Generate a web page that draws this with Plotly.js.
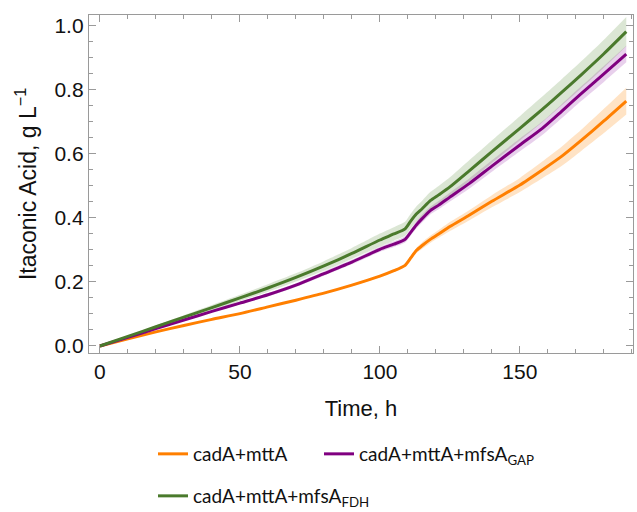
<!DOCTYPE html>
<html>
<head>
<meta charset="utf-8">
<script src="https://cdn.plot.ly/plotly-3.0.1.min.js"></script>
<style>html,body{margin:0;padding:0;background:#fff;}#chart{width:637px;height:512px;}</style>
</head>
<body>
<div id="chart"></div>
<script>
// Time grid (h)
const timeH = [0, 10, 20, 30, 40, 50, 60, 70, 80, 90, 100, 105, 109, 111, 113, 115, 118, 121, 125, 132, 140, 150, 158, 165, 172, 180, 188];

// Itaconic acid (g/L), central estimates
const cadA_mttA = [0, 0.022, 0.044, 0.064, 0.083, 0.101, 0.122, 0.143, 0.165, 0.19, 0.218, 0.235, 0.252, 0.275, 0.298, 0.313, 0.333, 0.35, 0.373, 0.409, 0.452, 0.503, 0.55, 0.593, 0.643, 0.703, 0.765];
const cadA_mttA_GAP = [0, 0.027, 0.054, 0.081, 0.108, 0.134, 0.16, 0.19, 0.226, 0.262, 0.302, 0.318, 0.333, 0.355, 0.378, 0.397, 0.423, 0.44, 0.465, 0.508, 0.562, 0.628, 0.68, 0.734, 0.789, 0.85, 0.912];
const cadA_mttA_FDH = [0, 0.03, 0.06, 0.09, 0.12, 0.15, 0.181, 0.214, 0.25, 0.289, 0.331, 0.35, 0.366, 0.39, 0.412, 0.428, 0.454, 0.472, 0.497, 0.548, 0.607, 0.68, 0.739, 0.793, 0.848, 0.913, 0.982];

// Half-width of the shaded uncertainty band (g/L)
const cadA_mttA_band = [0, 0, 0, 0, 0.001, 0.001, 0.001, 0.002, 0.002, 0.003, 0.003, 0.004, 0.004, 0.006, 0.008, 0.01, 0.011, 0.012, 0.014, 0.016, 0.019, 0.022, 0.026, 0.03, 0.033, 0.038, 0.042];
const cadA_mttA_GAP_band = [0, 0.001, 0.002, 0.002, 0.003, 0.004, 0.005, 0.006, 0.007, 0.007, 0.008, 0.009, 0.01, 0.01, 0.011, 0.012, 0.012, 0.013, 0.014, 0.016, 0.018, 0.02, 0.021, 0.022, 0.023, 0.025, 0.026];
const cadA_mttA_FDH_band = [0, 0.002, 0.004, 0.006, 0.008, 0.01, 0.012, 0.013, 0.015, 0.017, 0.02, 0.021, 0.022, 0.023, 0.024, 0.025, 0.027, 0.028, 0.03, 0.033, 0.035, 0.038, 0.04, 0.041, 0.042, 0.044, 0.046];

const seriesNames = ['cadA+mttA', 'cadA+mttA+mfsA<sub>GAP</sub>', 'cadA+mttA+mfsA<sub>FDH</sub>'];
const xTickVals = [0, 50, 100, 150];
const yTickVals = [0.0, 0.2, 0.4, 0.6, 0.8, 1.0];

const series = [
  {y: cadA_mttA, band: cadA_mttA_band, color: '#ff7f00', fill: 'rgba(255,150,40,0.27)', legend: 'legend'},
  {y: cadA_mttA_GAP, band: cadA_mttA_GAP_band, color: '#800080', fill: 'rgba(150,40,170,0.22)', legend: 'legend3'},
  {y: cadA_mttA_FDH, band: cadA_mttA_FDH_band, color: '#4a7a2c', fill: 'rgba(90,140,60,0.22)', legend: 'legend2'}
];

const traces = [];
series.forEach((s) => {
  const lo = s.y.map((v, i) => v - s.band[i]);
  const hi = s.y.map((v, i) => v + s.band[i]);
  traces.push({x: timeH, y: lo, type: 'scatter', mode: 'lines', line: {width: 0, shape: 'spline', smoothing: 0.6}, showlegend: false, hoverinfo: 'skip'});
  traces.push({x: timeH, y: hi, type: 'scatter', mode: 'lines', fill: 'tonexty', fillcolor: s.fill, line: {width: 0, shape: 'spline', smoothing: 0.6}, showlegend: false, hoverinfo: 'skip'});
});
series.forEach((s, k) => {
  traces.push({x: timeH, y: s.y, type: 'scatter', mode: 'lines', name: seriesNames[k], legend: s.legend,
    line: {color: s.color, width: 3, shape: 'spline', smoothing: 0.6}});
});

const axisCommon = {
  showline: true, linecolor: '#9a9a9a', linewidth: 1.2, mirror: 'allticks',
  ticks: 'inside', ticklen: 7, tickcolor: '#9a9a9a', tickwidth: 1,
  showgrid: false, zeroline: false,
  tickfont: {family: 'Liberation Sans, Arial, sans-serif', size: 21, color: '#111'}
};

const legendFont = {family: 'Lato, Noto Sans, sans-serif', size: 19, color: '#111'};
const legendBase = {orientation: 'h', xref: 'container', yref: 'container', traceorder: 'normal',
  xanchor: 'left', yanchor: 'middle', font: legendFont, bgcolor: 'rgba(0,0,0,0)'};

const layout = {
  width: 637, height: 512,
  margin: {l: 89, r: 4, t: 15, b: 159},
  paper_bgcolor: '#fff', plot_bgcolor: '#fff',
  showlegend: true,
  xaxis: Object.assign({}, axisCommon, {
    range: [-3.9, 190.4], tickvals: xTickVals, ticktext: xTickVals.map(String),
    minor: {dtick: 10, tick0: 0, ticks: 'inside', ticklen: 4, tickcolor: '#9a9a9a'},
    title: {text: 'Time, h', font: {family: 'Liberation Sans, Arial, sans-serif', size: 22, color: '#111'}, standoff: 18}
  }),
  yaxis: Object.assign({}, axisCommon, {
    range: [-0.022, 1.034], tickvals: yTickVals, ticktext: yTickVals.map(v => v.toFixed(1)),
    minor: {dtick: 0.05, tick0: 0, ticks: 'inside', ticklen: 4, tickcolor: '#9a9a9a'},
    title: {text: 'Itaconic Acid, g L<sup>−1</sup>', font: {family: 'Liberation Sans, Arial, sans-serif', size: 23, color: '#111'}, standoff: 11}
  }),
  legend: Object.assign({}, legendBase, {x: 153 / 637, y: 1 - 454 / 512}),
  legend3: Object.assign({}, legendBase, {x: 319 / 637, y: 1 - 454 / 512}),
  legend2: Object.assign({}, legendBase, {x: 153 / 637, y: 1 - 496 / 512})
};

Plotly.newPlot('chart', traces, layout, {staticPlot: true, displayModeBar: false});
</script>
</body>
</html>
